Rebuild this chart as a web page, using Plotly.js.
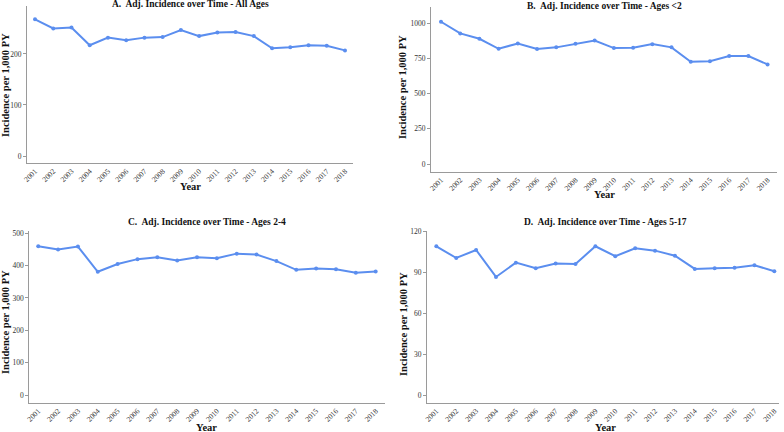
<!DOCTYPE html>
<html>
<head>
<meta charset="utf-8">
<script src="https://cdn.plot.ly/plotly-3.0.1.min.js"></script>
<style>html,body{margin:0;padding:0;background:#fff}#chart{width:784px;height:432px}</style>
</head>
<body>
<div id="chart"></div>
<script>
// ---- data ----
const years = [2001,2002,2003,2004,2005,2006,2007,2008,2009,2010,2011,2012,2013,2014,2015,2016,2017,2018];
const allAges   = [268,250,252,217,232,227,232,233,247,235,242,243,235,211,213,217,216,207];
const agesUnder2 = [1011,928,890,819,857,817,829,855,878,824,826,852,829,727,731,767,767,708];
const ages2to4  = [460,450,459,381,405,420,426,416,426,423,437,434,414,387,391,389,378,382];
const ages5to17 = [109.3,100.7,106.6,86.8,97.3,93.2,96.6,96.3,109.3,102,107.8,106.1,102.4,92.7,93.2,93.6,95.4,91];
const panelTitles = [
  "A.\u00a0 Adj. Incidence over Time - All Ages",
  "B.\u00a0 Adj. Incidence over Time - Ages <2",
  "C.\u00a0 Adj. Incidence over Time - Ages 2-4",
  "D.\u00a0 Adj. Incidence over Time - Ages 5-17"
];
const yTicks = [[0,100,200],[0,250,500,750,1000],[0,100,200,300,400,500],[0,30,60,90,120]];
const xTitle = "Year";
const yTitle = "Incidence per 1,000 PY";

// ---- layout helpers (pixel -> paper) ----
const W = 784, H = 432;
const px = x => x / W;
const py = y => 1 - y / H;
const FONT = '"Liberation Serif", "Times New Roman", serif';
const LINE = '#5B8EEF';

const series = [allAges, agesUnder2, ages2to4, ages5to17];
// plot boxes in pixels: [left, right, top, bottom], y range, x range
const boxes = [
  {l:27,  r:353, t:6,   b:163,   yr:[-13.7,294], xr:[2000.56,2018.44]},
  {l:431, r:777, t:6.7, b:171.7, yr:[-54.7,1118], xr:[2000.48,2018.49]},
  {l:29.3,r:385, t:231, b:402.7, yr:[-23.8,507], xr:[2000.55,2018.47]},
  {l:427, r:778.7,t:231,b:402.7, yr:[-5.4,120.5], xr:[2000.53,2018.22]}
];
const titlePos = [[190,4],[604,6],[207,222],[605,222]];
const xTitlePos = [[190,186],[604,195],[207,427],[605,427]];
const yTitlePos = [[5,85],[403,87],[5,322],[403,324]];

const traces = [];
const layout = {
  width: W, height: H,
  margin: {l:0, r:0, t:0, b:0},
  paper_bgcolor: '#fff', plot_bgcolor: '#fff',
  showlegend: false,
  font: {family: FONT, color: '#222'},
  annotations: []
};

series.forEach((vals, i) => {
  const n = i === 0 ? '' : String(i + 1);
  traces.push({
    x: years, y: vals, type: 'scatter', mode: 'lines+markers',
    xaxis: 'x' + n, yaxis: 'y' + n,
    line: {color: LINE, width: 2},
    marker: {color: LINE, size: 4},
    hoverinfo: 'skip'
  });
  const b = boxes[i];
  layout['xaxis' + n] = {
    domain: [px(b.l), px(b.r)], range: b.xr, anchor: 'y' + n,
    tickmode: 'array', tickvals: years, ticktext: years.map(String),
    tickangle: -45, tickfont: {family: FONT, size: 7.5, color: '#333'},
    showgrid: false, zeroline: false, showline: true, linecolor: '#9a9a9a', linewidth: 1,
    ticks: '', fixedrange: true
  };
  layout['yaxis' + n] = {
    domain: [py(b.b), py(b.t)], range: b.yr, anchor: 'x' + n,
    tickmode: 'array', tickvals: yTicks[i],
    tickfont: {family: FONT, size: 7.5, color: '#333'},
    showgrid: false, zeroline: false, showline: true, linecolor: '#9a9a9a', linewidth: 1,
    ticks: 'outside', ticklen: 3, tickcolor: '#9a9a9a', fixedrange: true
  };
  layout.annotations.push({
    text: '<b>' + panelTitles[i].replace('<', '&lt;') + '</b>', xref: 'paper', yref: 'paper',
    x: px(titlePos[i][0]), y: py(titlePos[i][1]), xanchor: 'center', yanchor: 'middle',
    showarrow: false, font: {family: FONT, size: 9.5, color: '#111'}
  });
  layout.annotations.push({
    text: '<b>' + xTitle + '</b>', xref: 'paper', yref: 'paper',
    x: px(xTitlePos[i][0]), y: py(xTitlePos[i][1]), xanchor: 'center', yanchor: 'middle',
    showarrow: false, font: {family: FONT, size: 10.5, color: '#111'}
  });
  layout.annotations.push({
    text: '<b>' + yTitle + '</b>', xref: 'paper', yref: 'paper',
    x: px(yTitlePos[i][0]), y: py(yTitlePos[i][1]), xanchor: 'center', yanchor: 'middle',
    textangle: -90,
    showarrow: false, font: {family: FONT, size: 10.5, color: '#111'}
  });
});

Plotly.newPlot('chart', traces, layout, {displayModeBar: false, staticPlot: true});
</script>
</body>
</html>
